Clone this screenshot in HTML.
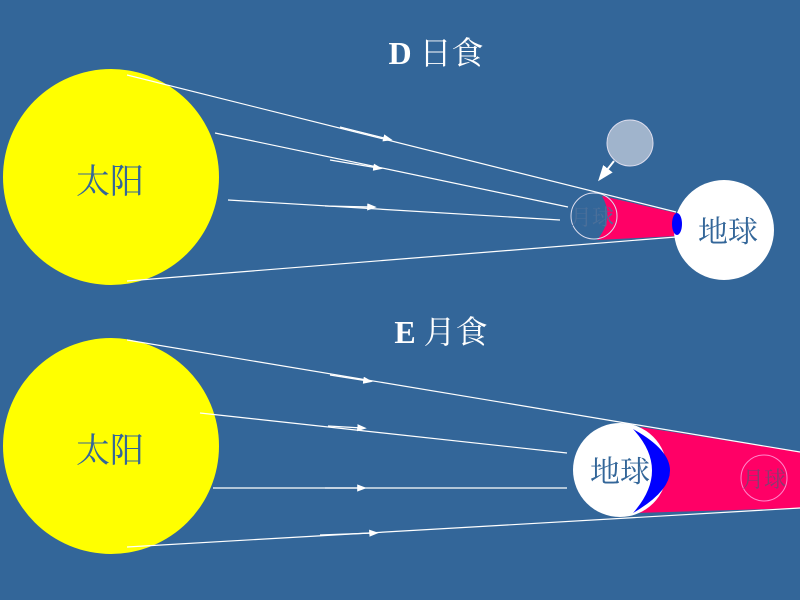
<!DOCTYPE html>
<html><head><meta charset="utf-8"><style>
html,body{margin:0;padding:0;background:#336699;}
svg{display:block}
text{font-family:"Liberation Serif","Noto Serif CJK SC",serif;}
</style></head><body>
<svg width="800" height="600" viewBox="0 0 800 600">
<rect width="800" height="600" fill="#336699"/>
<defs>
<marker id="a" markerWidth="8" markerHeight="6" refX="4" refY="3" orient="auto"><path d="M0,0 L8,3 L0,6 Z" fill="#fff"/></marker>
</defs>
<!-- Top -->
<text x="436" y="64" font-size="32" fill="#fff" text-anchor="middle"><tspan font-weight="bold">D</tspan> 日食</text>
<circle cx="111" cy="177" r="108" fill="#ffff00"/>
<text x="110" y="193" font-size="34" fill="#336699" text-anchor="middle" font-family="Noto Sans CJK SC,sans-serif">太阳</text>
<path d="M602,196 L676,213 L676,236 L597,240 Q615,218 602,196Z" fill="#ff0066"/>
<circle cx="724" cy="230" r="50" fill="#fff"/>
<ellipse cx="677" cy="224" rx="5" ry="11" fill="#0000ff"/>
<text x="728" y="242" font-size="30" fill="#336699" text-anchor="middle" font-family="Noto Sans CJK SC,sans-serif">地球</text>
<circle cx="594" cy="216" r="23" fill="none" stroke="#dde" stroke-width="1"/>
<text x="592" y="225" font-size="22" fill="#4a6f9a" text-anchor="middle" font-family="Noto Sans CJK SC,sans-serif">月球</text>
<g stroke="#fff" stroke-width="1.2" fill="none">
<line x1="127" y1="75" x2="676" y2="212"/>
<line x1="215" y1="133" x2="568" y2="207"/>
<line x1="228" y1="200" x2="560" y2="220"/>
<line x1="127" y1="281" x2="676" y2="237"/>
<line x1="340" y1="127" x2="388" y2="139" marker-end="url(#a)"/>
<line x1="330" y1="160" x2="378" y2="168" marker-end="url(#a)"/>
<line x1="325" y1="206" x2="372" y2="207" marker-end="url(#a)"/>
</g>
<circle cx="630" cy="143" r="23" fill="#a0b4cc" stroke="#dde" stroke-width="1"/>
<line x1="614" y1="161" x2="603" y2="175" stroke="#fff" stroke-width="2" marker-end="url(#a)"/>
<!-- Bottom -->
<text x="441" y="343" font-size="32" fill="#fff" text-anchor="middle"><tspan font-weight="bold">E</tspan> 月食</text>
<circle cx="111" cy="446" r="108" fill="#ffff00"/>
<text x="110" y="462" font-size="34" fill="#336699" text-anchor="middle" font-family="Noto Sans CJK SC,sans-serif">太阳</text>
<path d="M640,427 L800,452 L800,508 L635,513 Q680,470 640,427Z" fill="#ff0066"/>
<circle cx="620" cy="470" r="47" fill="#fff"/>
<path d="M633,429 Q707,470 633,513 Q671,470 633,429Z" fill="#0000ff"/>
<text x="620" y="482" font-size="30" fill="#336699" text-anchor="middle" font-family="Noto Sans CJK SC,sans-serif">地球</text>
<circle cx="764" cy="478" r="23" fill="none" stroke="#f8c" stroke-width="1"/>
<text x="764" y="487" font-size="22" fill="#8a3a70" text-anchor="middle" font-family="Noto Sans CJK SC,sans-serif">月球</text>
<g stroke="#fff" stroke-width="1.2" fill="none">
<line x1="127" y1="340" x2="800" y2="452"/>
<line x1="200" y1="413" x2="567" y2="453"/>
<line x1="213" y1="488" x2="567" y2="488"/>
<line x1="127" y1="547" x2="800" y2="508"/>
<line x1="330" y1="375" x2="368" y2="381" marker-end="url(#a)"/>
<line x1="328" y1="426" x2="362" y2="428" marker-end="url(#a)"/>
<line x1="325" y1="488" x2="362" y2="488" marker-end="url(#a)"/>
<line x1="320" y1="535" x2="374" y2="533" marker-end="url(#a)"/>
</g>
</svg>
</body></html>
